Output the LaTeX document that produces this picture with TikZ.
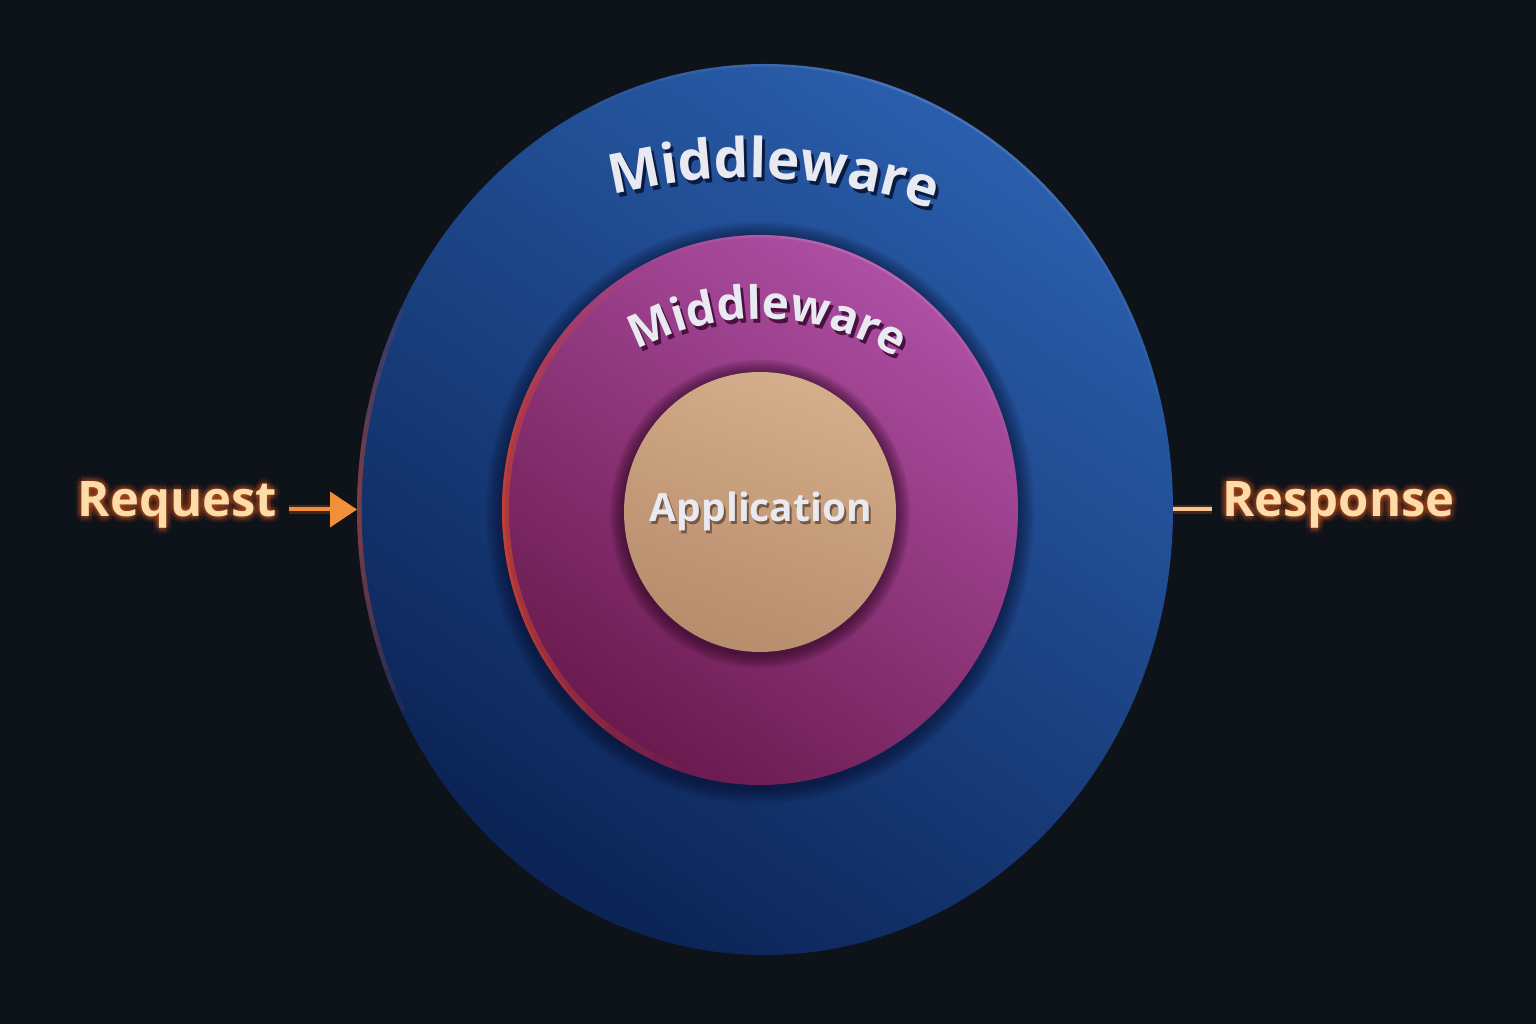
\documentclass[tikz,border=0pt]{standalone}
\usepackage{fontspec}
\setmainfont{Open Sans}
\usetikzlibrary{shapes.geometric,arrows.meta,decorations.text}
\definecolor{bg}{HTML}{0E1219}
\definecolor{blueA}{HTML}{2A5EAC}
\definecolor{blueB}{HTML}{17428B}
\definecolor{blueC}{HTML}{0B2355}
\definecolor{magA}{HTML}{AE4FA4}
\definecolor{magB}{HTML}{8C2D7A}
\definecolor{magC}{HTML}{6A1A4E}
\definecolor{appA}{HTML}{D4AD8A}
\definecolor{appB}{HTML}{B68D6D}
\definecolor{rimred}{HTML}{E0502A}
\definecolor{reqorange}{HTML}{F2903A}
\definecolor{glowc}{HTML}{E8601A}
\definecolor{cream}{HTML}{FDDCAA}
\definecolor{respline}{HTML}{F8C890}
\definecolor{mwtext}{HTML}{E8E9F1}
\definecolor{mwshadowA}{HTML}{0A1B42}
\definecolor{mwshadowB}{HTML}{4A1040}
\definecolor{appshadow}{HTML}{7A5840}
\definecolor{shadowring}{HTML}{050A25}
\definecolor{appring}{HTML}{2A0620}
\tikzset{
  disc/.style={ellipse, draw=none, inner sep=0pt, outer sep=0pt},
  lbl/.style={font=\fontsize{49}{54}\selectfont\bfseries, text=cream, inner ysep=0pt},
  glowtxt/.style={lbl, text=glowc, text opacity=0.075},
  apptxt/.style={font=\fontsize{39}{44}\selectfont\bfseries, inner sep=0pt},
}
\begin{document}
\begin{tikzpicture}[x=1pt,y=1pt]
\useasboundingbox (0,0) rectangle (1536,1024);
\fill[bg] (0,0) rectangle (1536,1024);

% outer disc
\node[disc, minimum width=816pt, minimum height=891pt,
      top color=blueA, middle color=blueB, bottom color=blueC, shading angle=-35] (outer) at (765,514.5) {};
\begin{scope}
  \clip (outer.center) ellipse [x radius=408, y radius=445.5];
  \foreach \s in {3,6,...,27}
    \draw[rimred, line width=9pt, opacity=0.08]
      (outer.center) ++({180-\s}:408 and 445.5)
      arc[start angle={180-\s}, end angle={180+\s}, x radius=408, y radius=445.5];
  \foreach \s in {10,20,...,50}
    \draw[white, opacity=0.03, line width=5pt]
      (outer.center) ++({65-\s}:408 and 445.5)
      arc[start angle={65-\s}, end angle={65+\s}, x radius=408, y radius=445.5];
\end{scope}

% shadow ring around the magenta disc
\coordinate (magc) at (760,514);
\foreach \d in {2,4,...,16}
  \fill[shadowring, opacity=0.08] ([yshift=-3pt]magc) ellipse [x radius={258+\d}, y radius={275+\d}];

% magenta disc
\node[disc, minimum width=516pt, minimum height=550pt,
      top color=magA, middle color=magB, bottom color=magC, shading angle=-35] (mag) at (magc) {};
\begin{scope}
  \clip (mag.center) ellipse [x radius=258, y radius=275];
  \foreach \s in {6,12,...,66}
    \draw[rimred, line width=14pt, opacity=0.07]
      (mag.center) ++({185-\s}:258 and 275)
      arc[start angle={185-\s}, end angle={185+\s}, x radius=258, y radius=275];
  \foreach \s in {6,12,...,48}
    \draw[rimred, line width=5pt, opacity=0.08]
      (mag.center) ++({185-\s}:258 and 275)
      arc[start angle={185-\s}, end angle={185+\s}, x radius=258, y radius=275];
  \foreach \s in {10,20,...,50}
    \draw[white, opacity=0.03, line width=5pt]
      (mag.center) ++({65-\s}:258 and 275)
      arc[start angle={65-\s}, end angle={65+\s}, x radius=258, y radius=275];
\end{scope}

% shadow ring around application
\coordinate (appc) at (760,512);
\foreach \d in {2,4,...,14}
  \fill[appring, opacity=0.11] ([yshift=-2pt]appc) ellipse [x radius={136+\d}, y radius={140+\d}];

% application disc
\node[disc, minimum width=272pt, minimum height=280pt,
      top color=appA, bottom color=appB, shading angle=-20] (app) at (appc) {};

% curved labels with drop shadows
\coordinate (oc) at (748,282);
\coordinate (ic) at (760,445);
\path[decorate, decoration={text along path, text align=center, text color=mwshadowA,
      text={|\fontsize{55}{60}\selectfont\bfseries|Middleware}}]
  ([shift={(3,-4)}]oc) ++(112.4:564) arc[start angle=112.4, end angle=62.4, radius=564];
\path[decorate, decoration={text along path, text align=center, text color=mwtext,
      text={|\fontsize{55}{60}\selectfont\bfseries|Middleware}}]
  (oc) ++(112.4:564) arc[start angle=112.4, end angle=62.4, radius=564];

\path[decorate, decoration={text along path, text align=center, text color=mwshadowB,
      text={|\fontsize{46}{50}\selectfont\bfseries|Middleware}}]
  ([shift={(3,-4)}]ic) ++(125:260) arc[start angle=125, end angle=51.6, radius=260];
\path[decorate, decoration={text along path, text align=center, text color=mwtext,
      text={|\fontsize{46}{50}\selectfont\bfseries|Middleware}}]
  (ic) ++(125:260) arc[start angle=125, end angle=51.6, radius=260];

% application label
\node[apptxt, text=appshadow, anchor=base] (appsh) at (763,499) {Application};
\node[apptxt, text=mwtext, anchor=base] (applbl) at (761,502) {Application};

% request / response glow (soft copies around the words)
\foreach \r [count=\i] in {2,4,6}
  \foreach \a [count=\j] in {0,45,...,315} {
    \node[glowtxt, anchor=base east, inner xsep=12pt] (rg\i\j) at ([shift={(\a:\r)}]289,507) {Request};
    \node[glowtxt, anchor=base west, inner xsep=10pt] (sg\i\j) at ([shift={(\a:\r)}]1212,507) {Response};
  }
\node[lbl, anchor=base east, inner xsep=12pt] (req) at (289,507) {Request};
\node[lbl, anchor=base west, inner xsep=10pt] (resp) at (1212,507) {Response};

% connectors
\draw[glowc, opacity=0.25, line width=9pt] (req.east |- outer.west) -- ([xshift=-20pt]outer.west);
\draw[-{Triangle[length=27pt,width=35pt]}, line width=4pt, reqorange] (req.east |- outer.west) -- (outer.west);
\draw[glowc, opacity=0.25, line width=9pt] (outer.east) -- (resp.west |- outer.east);
\draw[line width=4pt, respline] (outer.east) -- (resp.west |- outer.east);
\end{tikzpicture}
\end{document}
